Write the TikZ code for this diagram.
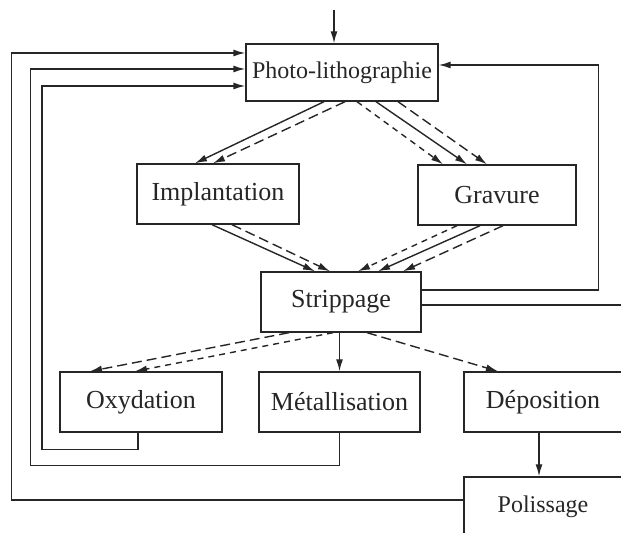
\documentclass[tikz,border=0pt]{standalone}
\usepackage{fontspec}
\setmainfont{Liberation Serif}
\usetikzlibrary{arrows.meta,calc}

\begin{document}
\begin{tikzpicture}[x=0.5pt, y=-0.5pt, line width=0.7pt, color=black!85,
  etape/.style={draw, rectangle, inner sep=0pt, minimum height=30pt,
    font=\fontsize{13}{15}\selectfont},
  fl/.style={-{Latex[length=6pt,width=3.5pt]}},
  tlong/.style={dash pattern=on 5pt off 2.5pt},
  tcourt/.style={dash pattern=on 3pt off 2.5pt}]
\clip (0,0) rectangle (621,533);

% 方框
\node[etape, minimum width=96pt, minimum height=28.5pt, font=\fontsize{12}{14}\selectfont] (photo) at (342,72.5) {Photo-lithographie};
\node[etape, minimum width=81pt] (impl) at (218,194) {Implantation};
\node[etape, minimum width=79pt] (grav) at (497,195) {Gravure};
\node[etape, minimum width=80pt] (strip) at (341,302) {Strippage};
\node[etape, minimum width=81pt] (oxy) at (141,402) {Oxydation};
\node[etape, minimum width=80.5pt] (metal) at (339.5,402) {Métallisation};
\node[etape, minimum width=79pt] (depo) at (543,402) {Déposition};
\node[etape, minimum width=79pt, font=\fontsize{12}{14}\selectfont] (poli) at (543,507) {Polissage};

% 入口
\coordinate (entree) at (334,10);
\draw[fl] (entree) -- ($(photo.north)+(-8,0)$);

% Photo -> Implantation, Gravure
\draw[fl] ($(photo.south)+(-18,0)$) -- ($(impl.north)+(-23,0)$);
\draw[fl, tlong] ($(photo.south)+(3,0)$) -- ($(impl.north)+(-5,0)$);
\draw[fl, tcourt] ($(photo.south)+(15,0)$) -- ($(grav.north)+(-54,0)$);
\draw[fl] ($(photo.south)+(34,0)$) -- ($(grav.north)+(-30,0)$);
\draw[fl, tlong] ($(photo.south)+(56,0)$) -- ($(grav.north)+(-10,0)$);

% -> Strippage
\draw[fl] ($(impl.south)+(-6,0)$) -- ($(strip.north)+(-26,0)$);
\draw[fl, tlong] ($(impl.south)+(14,0)$) -- ($(strip.north)+(-11,0)$);
\draw[fl, tcourt] ($(grav.south)+(-40,0)$) -- ($(strip.north)+(17,0)$);
\draw[fl] ($(grav.south)+(-17,0)$) -- ($(strip.north)+(37,0)$);
\draw[fl, tlong] ($(grav.south)+(6,0)$) -- ($(strip.north)+(62,0)$);

% Strippage -> 下层
\draw[fl, tlong] ($(strip.south)+(-52,0)$) -- ($(oxy.north)+(-51,0)$);
\draw[fl, tcourt] ($(strip.south)+(-8,0)$) -- ($(oxy.north)+(-6,0)$);
\draw[fl] (metal.north |- strip.south) -- (metal.north);
\draw[fl, tlong] ($(strip.south)+(26,0)$) -- ($(depo.north)+(-45,0)$);
\draw[fl] ($(depo.south)+(-4,0)$) -- ($(poli.north)+(-4,0)$);

% 回路
\draw[fl] ($(oxy.south)+(-3,0)$) -- ++(0,17) -- ++(-96,0) |- ($(photo.west)+(0,13.5)$);
\draw[fl] (metal.south) -- ++(0,33) -- ++(-309,0) |- ($(photo.west)+(0,-3.5)$);
\draw[fl] ($(poli.west)+(0,-7)$) -- ++(-452,0) |- ($(photo.west)+(0,-19.5)$);
\draw[fl] ($(strip.east)+(0,-12)$) -- ++(177,0) |- ($(photo.east)+(0,-7.5)$);
\coordinate (sortie) at (630,305);
\draw ($(strip.east)+(0,3)$) -- (sortie);
\end{tikzpicture}
\end{document}
